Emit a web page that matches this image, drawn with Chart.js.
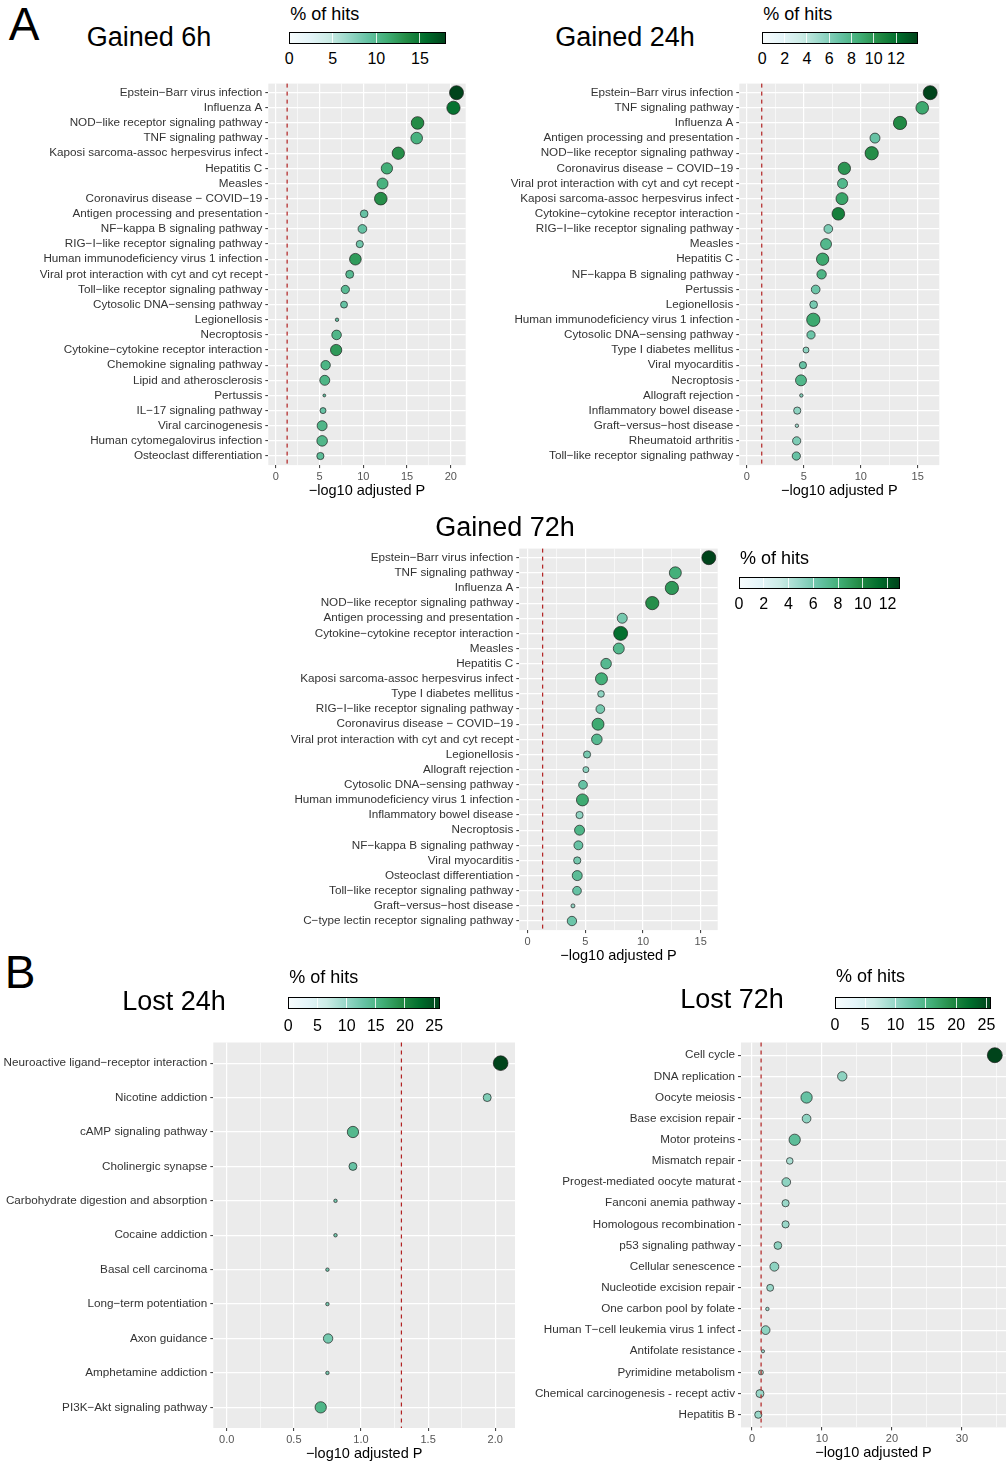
<!DOCTYPE html>
<html>
<head>
<meta charset="utf-8">
<script src="https://cdn.jsdelivr.net/npm/chart.js@4.4.1/dist/chart.umd.min.js"></script>
<style>
  html, body { margin: 0; padding: 0; background: #fff; overflow: hidden; }
  body { width: 1006px; height: 1466px; position: relative; font-family: "Liberation Sans", Arial, sans-serif; color: #000; }
  canvas, .t { position: absolute; }
  .t { white-space: nowrap; line-height: 1; transform: translate(-50%, -50%); }
  .t.left { transform: translate(0, -50%); }
</style>
</head>
<body>
<script>
const FONT = "'Liberation Sans', Arial, sans-serif";
const pCutoff = 0.05;

// Gained 6h
const g6Paths = ["Epstein−Barr virus infection", "Influenza A", "NOD−like receptor signaling pathway", "TNF signaling pathway",
  "Kaposi sarcoma-assoc herpesvirus infect", "Hepatitis C", "Measles", "Coronavirus disease − COVID−19",
  "Antigen processing and presentation", "NF−kappa B signaling pathway", "RIG−I−like receptor signaling pathway",
  "Human immunodeficiency virus 1 infection", "Viral prot interaction with cyt and cyt recept", "Toll−like receptor signaling pathway",
  "Cytosolic DNA−sensing pathway", "Legionellosis", "Necroptosis", "Cytokine−cytokine receptor interaction",
  "Chemokine signaling pathway", "Lipid and atherosclerosis", "Pertussis", "IL−17 signaling pathway",
  "Viral carcinogenesis", "Human cytomegalovirus infection", "Osteoclast differentiation"];
const g6LogP = [20.65, 20.3, 16.2, 16.1, 14.0, 12.7, 12.2, 12.0, 10.1, 9.9, 9.6, 9.1, 8.45, 7.95, 7.8, 7.0, 6.95, 6.9, 5.7, 5.6, 5.55, 5.4, 5.3, 5.3, 5.1];
const g6Pct = [18, 15.3, 13.5, 10.8, 13.3, 11.2, 10.8, 13.3, 9, 9, 8.5, 12.5, 9.9, 9.8, 9, 9, 10.3, 12.6, 10.5, 10.5, 9, 9, 10.3, 10.3, 9.6];
const g6Genes = [49, 44, 40, 34, 38, 32, 30, 40, 15, 19, 13, 34, 16, 17, 12, 3, 23, 32, 22, 25, 2, 9, 25, 28, 13];
const g6XTicks = [0, 5, 10, 15, 20];
const g6PctTicks = [0, 5, 10, 15];

// Gained 24h
const g24Paths = ["Epstein−Barr virus infection", "TNF signaling pathway", "Influenza A", "Antigen processing and presentation",
  "NOD−like receptor signaling pathway", "Coronavirus disease − COVID−19", "Viral prot interaction with cyt and cyt recept",
  "Kaposi sarcoma-assoc herpesvirus infect", "Cytokine−cytokine receptor interaction", "RIG−I−like receptor signaling pathway",
  "Measles", "Hepatitis C", "NF−kappa B signaling pathway", "Pertussis", "Legionellosis",
  "Human immunodeficiency virus 1 infection", "Cytosolic DNA−sensing pathway", "Type I diabetes mellitus", "Viral myocarditis",
  "Necroptosis", "Allograft rejection", "Inflammatory bowel disease", "Graft−versus−host disease", "Rheumatoid arthritis",
  "Toll−like receptor signaling pathway"];
const g24LogP = [16.1, 15.4, 13.45, 11.25, 10.96, 8.56, 8.4, 8.35, 8.03, 7.15, 6.95, 6.65, 6.56, 6.04, 5.86, 5.83, 5.63, 5.19, 4.92, 4.75, 4.78, 4.42, 4.39, 4.37, 4.34];
const g24Pct = [14, 9, 10.6, 7, 10.4, 10, 7.9, 9.2, 11.2, 6.2, 7.9, 9, 8.2, 6.8, 6.4, 9, 6.8, 5.6, 7, 8, 6, 5.6, 5, 6.2, 7];
const g24Genes = [49, 40, 44, 25, 44, 38, 25, 36, 40, 19, 30, 38, 22, 19, 15, 44, 17, 9, 13, 30, 3, 13, 3, 17, 17];
const g24XTicks = [0, 5, 10, 15];
const g24PctTicks = [0, 2, 4, 6, 8, 10, 12];

// Gained 72h
const g72Paths = ["Epstein−Barr virus infection", "TNF signaling pathway", "Influenza A", "NOD−like receptor signaling pathway",
  "Antigen processing and presentation", "Cytokine−cytokine receptor interaction", "Measles", "Hepatitis C",
  "Kaposi sarcoma-assoc herpesvirus infect", "Type I diabetes mellitus", "RIG−I−like receptor signaling pathway",
  "Coronavirus disease − COVID−19", "Viral prot interaction with cyt and cyt recept", "Legionellosis", "Allograft rejection",
  "Cytosolic DNA−sensing pathway", "Human immunodeficiency virus 1 infection", "Inflammatory bowel disease", "Necroptosis",
  "NF−kappa B signaling pathway", "Viral myocarditis", "Osteoclast differentiation", "Toll−like receptor signaling pathway",
  "Graft−versus−host disease", "C−type lectin receptor signaling pathway"];
const g72LogP = [15.7, 12.8, 12.5, 10.8, 8.2, 8.06, 7.9, 6.8, 6.4, 6.36, 6.3, 6.1, 6.0, 5.15, 5.05, 4.8, 4.75, 4.5, 4.5, 4.4, 4.3, 4.3, 4.28, 3.93, 3.84];
const g72Pct = [13, 8, 9.1, 9.6, 6, 11.2, 7.3, 7.2, 8, 5.2, 6, 8.3, 7.2, 6, 5.2, 6.5, 8.3, 5.2, 7.5, 6.5, 6, 7, 6.5, 5, 6.3];
const g72Genes = [49, 36, 44, 44, 25, 49, 30, 28, 36, 11, 19, 36, 28, 13, 9, 19, 36, 13, 25, 20, 13, 25, 19, 4, 22];
const g72XTicks = [0, 5, 10, 15];
const g72PctTicks = [0, 2, 4, 6, 8, 10, 12];

// Lost 24h
const l24Paths = ["Neuroactive ligand−receptor interaction", "Nicotine addiction", "cAMP signaling pathway", "Cholinergic synapse",
  "Carbohydrate digestion and absorption", "Cocaine addiction", "Basal cell carcinoma", "Long−term potentiation",
  "Axon guidance", "Amphetamine addiction", "PI3K−Akt signaling pathway"];
const l24LogP = [2.04, 1.94, 0.94, 0.94, 0.81, 0.81, 0.75, 0.75, 0.755, 0.75, 0.70];
const l24Pct = [26, 11.4, 14.6, 13, 12, 12, 12, 12, 12, 12, 15];
const l24Genes = [54, 16, 32, 16, 3, 3, 3, 3, 22, 3, 32];
const l24XTicks = [0, 0.5, 1, 1.5, 2];
const l24PctTicks = [0, 5, 10, 15, 20, 25];

// Lost 72h
const l72Paths = ["Cell cycle", "DNA replication", "Oocyte meiosis", "Base excision repair", "Motor proteins", "Mismatch repair",
  "Progest-mediated oocyte maturat", "Fanconi anemia pathway", "Homologous recombination", "p53 signaling pathway",
  "Cellular senescence", "Nucleotide excision repair", "One carbon pool by folate", "Human T−cell leukemia virus 1 infect",
  "Antifolate resistance", "Pyrimidine metabolism", "Chemical carcinogenesis - recept activ", "Hepatitis B"];
const l72LogP = [34.7, 12.9, 7.8, 7.8, 6.1, 5.4, 4.9, 4.8, 4.8, 3.7, 3.2, 2.6, 2.2, 1.95, 1.57, 1.28, 1.14, 0.9];
const l72Pct = [25.7, 10.3, 12.9, 10.3, 13.6, 8.5, 10.3, 9.6, 9.6, 10.3, 10.3, 9.6, 9, 10.3, 9, 9, 9.6, 9.6];
const l72Genes = [56, 22, 32, 19, 32, 11, 19, 13, 13, 15, 20, 12, 3, 19, 2.5, 6, 16, 13];
const l72XTicks = [0, 10, 20, 30];
const l72PctTicks = [0, 5, 10, 15, 20, 25];

// BuGn palette
const BUGN = ['#f7fcfd', '#e5f5f9', '#ccece6', '#99d8c9', '#66c2a4', '#41ae76', '#238b45', '#006d2c', '#00441b'];
function hexRgb(h) { return [1, 3, 5].map(i => parseInt(h.substr(i, 2), 16)); }
function bugn(t) {
  t = Math.max(0, Math.min(1, t));
  const p = t * (BUGN.length - 1);
  const i = Math.min(Math.floor(p), BUGN.length - 2);
  const f = p - i;
  const a = hexRgb(BUGN[i]), b = hexRgb(BUGN[i + 1]);
  return 'rgb(' + a.map((v, k) => Math.round(v + (b[k] - v) * f)).join(',') + ')';
}

const panelBg = {
  id: 'panelBg',
  beforeDraw(chart) {
    const { ctx, chartArea: a } = chart;
    ctx.save();
    ctx.fillStyle = '#EBEBEB';
    ctx.fillRect(a.left, a.top, a.right - a.left, a.bottom - a.top);
    ctx.restore();
  }
};
const cutLine = {
  id: 'cutLine',
  afterDatasetsDraw(chart, args, opts) {
    const { ctx, chartArea: a } = chart;
    const x = chart.scales.x.getPixelForValue(opts.value);
    ctx.save();
    ctx.strokeStyle = '#B22222';
    ctx.lineWidth = 1.2;
    ctx.setLineDash([4, 4]);
    ctx.beginPath();
    ctx.moveTo(x, a.top);
    ctx.lineTo(x, a.bottom);
    ctx.stroke();
    ctx.restore();
  }
};

function text(str, x, y, size, cls) {
  const d = document.createElement('div');
  d.className = 't' + (cls ? ' ' + cls : '');
  d.textContent = str;
  d.style.left = x + 'px';
  d.style.top = y + 'px';
  d.style.fontSize = size + 'px';
  document.body.appendChild(d);
}

function drawPanel(o) {
  const top = Math.floor(o.plot.t - 12);
  const h = Math.round(o.plot.b + 39 - top);
  const w = o.cr - o.cl;
  const cv = document.createElement('canvas');
  cv.width = w; cv.height = h;
  cv.style.cssText = `left:${o.cl}px;top:${top}px;width:${w}px;height:${h}px`;
  document.body.appendChild(cv);

  const major = o.xTicks[1] - o.xTicks[0];
  const isMajor = v => Math.abs(v / major - Math.round(v / major)) < 1e-6;
  const grid = [];
  for (let k = Math.ceil(o.xMin / (major / 2)); k * major / 2 <= o.xMax + 1e-9; k++) grid.push(+(k * major / 2).toFixed(6));
  const pctMax = Math.max(...o.pct);

  new Chart(cv, {
    type: 'bubble',
    data: {
      datasets: [{
        data: o.paths.map((p, i) => ({ x: o.logP[i], y: i, r: Math.sqrt(o.genes[i]) })),
        backgroundColor: o.pct.map(v => bugn(v / pctMax)),
        borderColor: 'rgba(25,25,25,0.85)',
        borderWidth: 0.8,
        clip: false
      }]
    },
    options: {
      responsive: false,
      animation: false,
      events: [],
      layout: { autoPadding: false, padding: { top: o.plot.t - top, right: o.cr - o.plot.r, left: 0, bottom: 0 } },
      plugins: { legend: { display: false }, tooltip: { enabled: false }, cutLine: { value: -Math.log10(pCutoff) } },
      scales: {
        x: {
          type: 'linear', min: o.xMin, max: o.xMax,
          afterBuildTicks: s => { s.ticks = grid.map(v => ({ value: v })); },
          afterFit: s => { s.height = top + h - o.plot.b; },
          ticks: {
            font: { size: 11, family: FONT }, color: '#555', padding: 2, maxRotation: 0, autoSkip: false,
            callback: v => isMajor(v) ? v.toFixed(o.digits) : ''
          },
          grid: {
            color: '#fff',
            lineWidth: c => (c.tick && isMajor(c.tick.value)) ? 1.2 : 0.6,
            tickLength: 3, tickWidth: 1,
            tickColor: c => (c.tick && isMajor(c.tick.value)) ? '#333' : 'rgba(0,0,0,0)'
          },
          border: { display: false },
          title: { display: true, text: '−log10 adjusted P', font: { size: 14.5, family: FONT }, color: '#000', padding: { top: 0, bottom: 4 } }
        },
        y: {
          type: 'linear', reverse: true, min: -0.6, max: o.paths.length - 0.4,
          afterBuildTicks: s => { s.ticks = o.paths.map((p, i) => ({ value: i })); },
          afterFit: s => { s.width = o.plot.l - o.cl; },
          ticks: { font: { size: 11.7, family: FONT }, color: '#333', padding: 3, autoSkip: false, callback: v => o.paths[v] },
          grid: { color: '#fff', lineWidth: 1.2, tickLength: 3, tickWidth: 1, tickColor: '#333' },
          border: { display: false }
        }
      }
    },
    plugins: [panelBg, cutLine]
  });
}

function colorbar(o) {
  const max = Math.max(...o.pct);
  const bar = document.createElement('div');
  bar.style.cssText = `position:absolute;left:${o.l}px;top:${o.t}px;width:${o.w}px;height:${o.h}px;` +
    `box-sizing:border-box;border:1px solid #000;background:linear-gradient(to right,${BUGN.join(',')})`;
  document.body.appendChild(bar);
  o.ticks.forEach(v => {
    const x = v / max * o.w;
    if (x > 1 && x < o.w - 1) {
      const tk = document.createElement('div');
      tk.style.cssText = `position:absolute;left:${x - 1.5}px;top:0;width:1px;height:100%;background:rgba(255,255,255,0.85)`;
      bar.appendChild(tk);
    }
    text(String(v), o.l + x, o.labelY, 16);
  });
  text('% of hits', o.l + 1, o.titleY, 18, 'left');
}

drawPanel({ paths: g6Paths, logP: g6LogP, pct: g6Pct, genes: g6Genes, xTicks: g6XTicks, digits: 0,
  xMin: -0.85, xMax: 21.7, cl: 0, cr: 480, plot: { l: 268.3, r: 465.7, t: 83.6, b: 465.1 } });
drawPanel({ paths: g24Paths, logP: g24LogP, pct: g24Pct, genes: g24Genes, xTicks: g24XTicks, digits: 0,
  xMin: -0.67, xMax: 16.9, cl: 490, cr: 1006, plot: { l: 739.3, r: 939.3, t: 83.6, b: 465.1 } });
drawPanel({ paths: g72Paths, logP: g72LogP, pct: g72Pct, genes: g72Genes, xTicks: g72XTicks, digits: 0,
  xMin: -0.72, xMax: 16.47, cl: 280, cr: 735, plot: { l: 519.3, r: 717.7, t: 548.6, b: 930.1 } });
drawPanel({ paths: l24Paths, logP: l24LogP, pct: l24Pct, genes: l24Genes, xTicks: l24XTicks, digits: 1,
  xMin: -0.1, xMax: 2.147, cl: 0, cr: 522, plot: { l: 213.3, r: 515, t: 1042.5, b: 1428 } });
drawPanel({ paths: l72Paths, logP: l72LogP, pct: l72Pct, genes: l72Genes, xTicks: l72XTicks, digits: 0,
  xMin: -1.57, xMax: 36.3, cl: 524, cr: 1006, plot: { l: 741, r: 1006, t: 1042.5, b: 1427.4 } });

colorbar({ pct: g6Pct, ticks: g6PctTicks, l: 289.3, t: 32.3, w: 156.7, h: 11.5, labelY: 59, titleY: 14 });
colorbar({ pct: g24Pct, ticks: g24PctTicks, l: 762.3, t: 32.3, w: 156, h: 11.5, labelY: 59, titleY: 14 });
colorbar({ pct: g72Pct, ticks: g72PctTicks, l: 739, t: 577.3, w: 161, h: 11.5, labelY: 604, titleY: 558 });
colorbar({ pct: l24Pct, ticks: l24PctTicks, l: 288.3, t: 997.3, w: 151.7, h: 12, labelY: 1026, titleY: 977 });
colorbar({ pct: l72Pct, ticks: l72PctTicks, l: 835, t: 996.7, w: 155.7, h: 12, labelY: 1025, titleY: 976 });

text('Gained 6h', 149, 37, 27);
text('Gained 24h', 625, 37, 27);
text('Gained 72h', 505, 527, 27);
text('Lost 24h', 174, 1001, 27);
text('Lost 72h', 732, 999, 27);
text('A', 24, 24, 46);
text('B', 20, 972, 46);
</script>
</body>
</html>
